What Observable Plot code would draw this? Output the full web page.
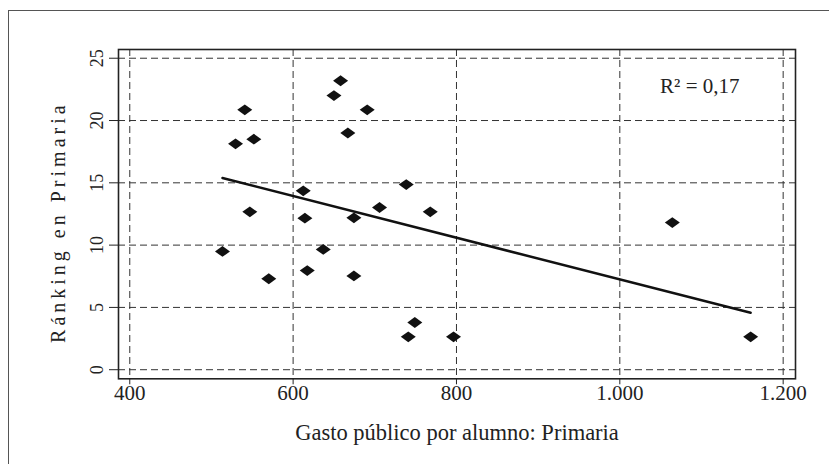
<!DOCTYPE html>
<html>
<head>
<meta charset="utf-8">
<script src="https://cdn.jsdelivr.net/npm/d3@7"></script>
<script src="https://cdn.jsdelivr.net/npm/@observablehq/plot@0.6"></script>
<style>
  html, body { margin: 0; padding: 0; background: #fff; }
  #wrap { position: relative; width: 829px; height: 464px; overflow: hidden; }
  #border { position: absolute; left: 8px; top: 10px; width: 1000px; height: 1000px; border: 1.5px solid #555; box-sizing: border-box; }
  #chart { position: absolute; left: 0; top: 0; }
  #chart svg text { font-family: "Liberation Serif", serif; }
</style>
</head>
<body>
<div id="wrap"><div id="border"></div><div id="chart"></div></div>
<script>
// Gasto público por alumno (x) and ránking en Primaria (y)
const gasto = [540.8, 529.5, 551.9, 658.1, 650.0, 667.0, 547.0, 612.4, 614.4, 674.4, 690.7, 738.5,
               705.8, 767.9, 513.5, 570.2, 617.3, 636.9, 674.4, 749.0, 741.0, 796.4, 1064.3, 1160.2];
const ranking = [20.86, 18.13, 18.5, 23.19, 22.0, 19.0, 12.67, 14.36, 12.16, 12.19, 20.86, 14.86,
                 13.02, 12.67, 9.49, 7.30, 7.96, 9.65, 7.53, 3.79, 2.64, 2.64, 11.81, 2.64];
const xTicks = [400, 600, 800, 1000, 1200];
const xTickLabels = ["400", "600", "800", "1.000", "1.200"];
const yTicks = [0, 5, 10, 15, 20, 25];
const yTickLabels = ["0", "5", "10", "15", "20", "25"];
const xLabel = "Gasto público por alumno: Primaria";
const yLabel = "Ránking en Primaria";
const r2Label = "R² = 0,17";

const data = gasto.map((x, i) => ({x, y: ranking[i]}));

const wideDiamond = {
  draw(ctx, size) {
    const r = Math.sqrt(size / Math.PI);
    const w = r, h = r * 0.72;
    ctx.moveTo(-w, 0); ctx.lineTo(0, -h); ctx.lineTo(w, 0); ctx.lineTo(0, h); ctx.closePath();
  }
};

const ink = "#222";
const serif = "Liberation Serif";
const chart = Plot.plot({
  width: 829,
  height: 464,
  marginLeft: 118,
  marginRight: 34,
  marginTop: 49,
  marginBottom: 85.7,
  style: {fontFamily: "'Liberation Serif', serif", fontSize: "21px", color: ink, background: "transparent"},
  x: {domain: [386.2, 1215.1]},
  y: {domain: [-0.73, 25.7]},
  marks: [
    Plot.gridX(xTicks, {stroke: "#333", strokeOpacity: 1, strokeWidth: 1, strokeDasharray: "7,4"}),
    Plot.gridY(yTicks, {stroke: "#333", strokeOpacity: 1, strokeWidth: 1, strokeDasharray: "7,4"}),
    Plot.frame({stroke: ink, strokeWidth: 1.6}),
    Plot.axisX({ticks: xTicks, tickFormat: d => xTickLabels[xTicks.indexOf(d)], tickSize: 6, tickPadding: 0, fontSize: 21, fontFamily: serif, fontVariant: "normal", label: null, stroke: ink, fill: ink}),
    Plot.axisY({ticks: yTicks, tickFormat: d => yTickLabels[yTicks.indexOf(d)], tickRotate: -90, tickSize: 9, tickPadding: 7, fontSize: 18, fontFamily: serif, fontVariant: "normal", label: null, stroke: ink, fill: ink}),
    Plot.linearRegressionY(data, {x: "x", y: "y", ci: 0, stroke: "#111", strokeWidth: 2.5}),
    Plot.dot(data, {x: "x", y: "y", symbol: wideDiamond, r: 7.5, fill: "#111", stroke: "none"}),
    Plot.text([r2Label], {text: d => d, frameAnchor: "top-right", textAnchor: "end", lineAnchor: "bottom", dx: -56, dy: 43, fontSize: 21, fontFamily: serif, fill: ink}),
    Plot.text([xLabel], {text: d => d, frameAnchor: "bottom", lineAnchor: "bottom", dy: 61, fontSize: 22.5, fontFamily: serif, fill: ink}),
    Plot.text([yLabel], {text: d => d, frameAnchor: "left", rotate: -90, textAnchor: "middle", lineAnchor: "bottom", dx: -54, dy: 8, fontSize: 20, fontFamily: serif, fill: ink})
  ]
});
chart.querySelectorAll("text").forEach(t => {
  if (t.textContent === yLabel) t.style.letterSpacing = "4px";
});
document.getElementById("chart").appendChild(chart);
</script>
</body>
</html>
